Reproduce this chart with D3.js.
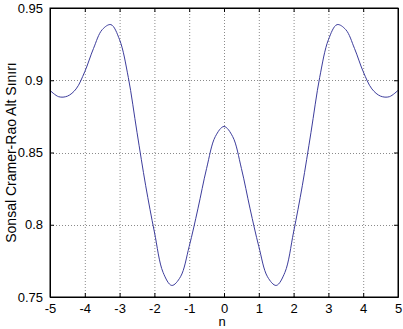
<!DOCTYPE html>
<html>
<head>
<meta charset="utf-8">
<script src="https://cdn.jsdelivr.net/npm/d3@7"></script>
<style>
  body { margin: 0; background: #fff; }
  text { font-family: "Liberation Sans", Arial, sans-serif; fill: #000; }
</style>
</head>
<body>
<div id="chart"></div>
<script>
// values
const nValues = [-5, -4.75, -4.5, -4.25, -4, -3.75, -3.5, -3.25, -3, -2.75, -2.5, -2.25, -2, -1.75, -1.5, -1.25, -1, -0.75, -0.5, -0.25,
  0, 0.25, 0.5, 0.75, 1, 1.25, 1.5, 1.75, 2, 2.25, 2.5, 2.75, 3, 3.25, 3.5, 3.75, 4, 4.25, 4.5, 4.75, 5];
const crbValues = [0.893, 0.8886, 0.889, 0.894, 0.906, 0.922, 0.935, 0.9385, 0.928, 0.902, 0.864, 0.827, 0.795, 0.767, 0.758, 0.764, 0.785, 0.811, 0.839, 0.861,
  0.868, 0.861, 0.839, 0.811, 0.785, 0.764, 0.758, 0.767, 0.795, 0.827, 0.864, 0.902, 0.928, 0.9385, 0.935, 0.922, 0.906, 0.894, 0.889, 0.8886, 0.893];
const xTicks = [-5, -4, -3, -2, -1, 0, 1, 2, 3, 4, 5];
const yTicks = [0.75, 0.8, 0.85, 0.9, 0.95];

const W = 403, H = 329;
const margin = { top: 8, right: 5, bottom: 32, left: 50 };
const width = W - margin.left - margin.right;
const height = H - margin.top - margin.bottom;

const svg = d3.select("#chart").append("svg")
  .attr("width", W).attr("height", H);

const chart = svg.append("g")
  .attr("transform", `translate(${margin.left},${margin.top})`);

const x = d3.scaleLinear().domain([-5, 5]).range([0, width]);
const y = d3.scaleLinear().domain([0.75, 0.95]).range([height, 0]);

// grid
const grid = chart.append("g").attr("stroke", "#8a8a8a").attr("stroke-dasharray", "1,2");
grid.selectAll(".vg").data(xTicks.slice(1, -1)).enter().append("line")
  .attr("x1", d => x(d) + 0.5).attr("x2", d => x(d) + 0.5)
  .attr("y1", 0).attr("y2", height);
grid.selectAll(".hg").data(yTicks.slice(1, -1)).enter().append("line")
  .attr("x1", 0).attr("x2", width)
  .attr("y1", d => Math.round(y(d)) + 0.5).attr("y2", d => Math.round(y(d)) + 0.5);

// curve
const line = d3.line()
  .x((d, i) => x(nValues[i]))
  .y(d => y(d))
  .curve(d3.curveCatmullRom);

chart.append("path")
  .datum(crbValues)
  .attr("fill", "none")
  .attr("stroke", "#3d3d9c")
  .attr("stroke-width", 1)
  .attr("d", line);

// axes (MATLAB style, ticks inside, plain hyphen minus)
const fmtX = d => String(d);
const fmtY = d => d3.format(".2~f")(d);
chart.append("g").attr("transform", `translate(0,${height})`)
  .call(d3.axisBottom(x).tickValues(xTicks).tickFormat(fmtX).tickSizeInner(-4).tickSizeOuter(0).tickPadding(7))
  .call(g => g.selectAll("text").style("font-size", "13px"));
chart.append("g")
  .call(d3.axisLeft(y).tickValues(yTicks).tickFormat(fmtY).tickSizeInner(-4).tickSizeOuter(0).tickPadding(7))
  .call(g => g.selectAll("text").style("font-size", "13px"));
chart.append("g")
  .call(d3.axisTop(x).tickValues(xTicks).tickSizeInner(-4).tickSizeOuter(0).tickFormat(""));
chart.append("g").attr("transform", `translate(${width},0)`)
  .call(d3.axisRight(y).tickValues(yTicks).tickSizeInner(-4).tickSizeOuter(0).tickFormat(""));
chart.selectAll(".domain").attr("stroke", "#000");
chart.selectAll(".tick line").attr("stroke", "#000");

chart.append("rect")
  .attr("x", 0).attr("y", 0).attr("width", width).attr("height", height)
  .attr("fill", "none").attr("stroke", "#000");

// labels
svg.append("text")
  .attr("x", margin.left + width / 2 - 2).attr("y", 326)
  .attr("text-anchor", "middle").style("font-size", "13px")
  .text("n");
svg.append("text")
  .attr("transform", `translate(16,${margin.top + height / 2}) rotate(-90)`)
  .attr("text-anchor", "middle").style("font-size", "14px")
  .text("Sonsal Cramer-Rao Alt Sınırı");
</script>
</body>
</html>
